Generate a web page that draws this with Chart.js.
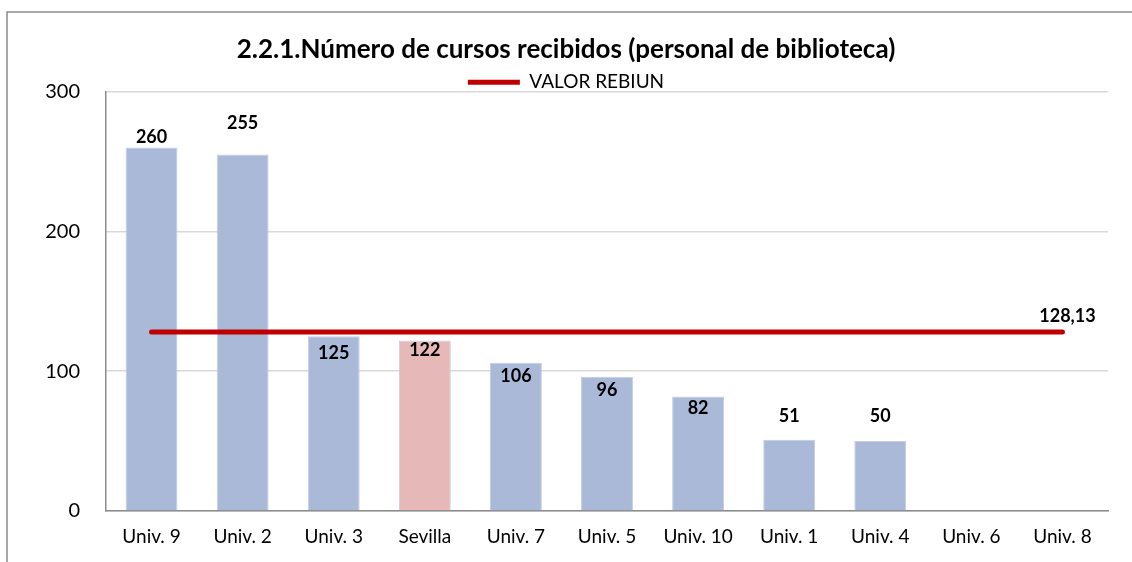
<!DOCTYPE html>
<html>
<head>
<meta charset="utf-8">
<script src="https://cdn.jsdelivr.net/npm/chart.js@4"></script>
<style>
  body { margin: 0; background: #fff; }
  #wrap { width: 1132px; height: 562px; position: relative; }
</style>
</head>
<body>
<div id="wrap"><canvas id="chart" width="1132" height="562"></canvas></div>
<script>
var categories = ["Univ. 9", "Univ. 2", "Univ. 3", "Sevilla", "Univ. 7", "Univ. 5", "Univ. 10", "Univ. 1", "Univ. 4", "Univ. 6", "Univ. 8"];
var cursos = [260, 255, 125, 122, 106, 96, 82, 51, 50, null, null];
var rebiun = [128.13, 128.13, 128.13, 128.13, 128.13, 128.13, 128.13, 128.13, 128.13, 128.13, 128.13];
var yTicks = [0, 100, 200, 300];
var rebiunLabel = "128,13";

// label offset from bar top (px), like excel placed them
var labelShift = [-10, -31, 17, 10, 13, 13, 12, -24, -25, 0, 0];

var barColors = categories.map(function (c) {
    return c === "Sevilla" ? "#E6B9B8" : "#A9B9D7";
});

var frame = {
    id: 'frame',
    afterInit: function (chart) {
        // drop the fixed 10px gap chart.js puts under the legend
        var lg = chart.legend;
        if (lg && !lg._patched) {
            var fit = lg.fit;
            lg.fit = function () {
                fit.call(this);
                if (this.height > 10) this.height -= 10;
            };
            lg._patched = true;
        }
    },
    beforeDraw: function (chart) {
        var ctx = chart.ctx;
        ctx.save();
        ctx.strokeStyle = '#8C8C8C';
        ctx.lineWidth = 1.5;
        ctx.beginPath();
        ctx.moveTo(7, 562);
        ctx.lineTo(7, 12);
        ctx.lineTo(1132, 12);
        ctx.stroke();
        ctx.restore();
    }
};

var labels = {
    id: 'labels',
    afterDatasetsDraw: function (chart) {
        var ctx = chart.ctx;
        ctx.save();
        ctx.font = 'bold 18px Lato';
        ctx.fillStyle = '#000';
        ctx.textAlign = 'center';
        ctx.textBaseline = 'middle';
        var bars = chart.getDatasetMeta(1).data;
        bars.forEach(function (b, i) {
            if (cursos[i] == null) return;
            ctx.fillText(String(cursos[i]), b.x, b.y + labelShift[i]);
        });
        var pts = chart.getDatasetMeta(0).data;
        var last = pts[pts.length - 1];
        ctx.fillText(rebiunLabel, last.x + 5, last.y - 16);
        ctx.restore();
    }
};

var ctx = document.getElementById('chart').getContext('2d');
var chart = new Chart(ctx, {
    data: {
        labels: categories,
        datasets: [{
            type: 'line',
            label: 'VALOR REBIUN',
            data: rebiun,
            borderColor: '#C00000',
            backgroundColor: '#C00000',
            borderWidth: 5,
            borderCapStyle: 'round',
            pointRadius: 0,
            order: 0
        }, {
            type: 'bar',
            label: 'cursos',
            data: cursos,
            backgroundColor: barColors,
            borderColor: '#C3CEE4',
            borderWidth: 1,
            barPercentage: 0.57,
            categoryPercentage: 1,
            order: 1
        }]
    },
    options: {
        responsive: false,
        animation: false,
        layout: {
            padding: { left: 0, right: 0, top: 34, bottom: 0 }
        },
        plugins: {
            title: {
                display: true,
                text: '2.2.1.Número de cursos recibidos (personal de biblioteca)',
                color: '#000',
                font: { family: 'Lato', size: 26, weight: 'bold' },
                padding: { top: 0, bottom: 6 }
            },
            legend: {
                position: 'top',
                labels: {
                    color: '#000',
                    font: { family: 'Lato', size: 19 },
                    usePointStyle: true,
                    pointStyle: 'line',
                    pointStyleWidth: 52,
                    boxHeight: 19,
                    padding: 1.5,
                    filter: function (item) { return item.text === 'VALOR REBIUN'; }
                }
            },
            tooltip: { enabled: false }
        },
        scales: {
            x: {
                grid: { display: false, drawTicks: false },
                border: { display: true, color: '#8C8C8C', width: 1.5 },
                ticks: { color: '#000', font: { family: 'Lato', size: 19 }, padding: 14 },
                afterFit: function (scale) { scale.height = 51; }
            },
            y: {
                min: 0,
                max: 300,
                afterBuildTicks: function (scale) {
                    scale.ticks = yTicks.map(function (v) { return { value: v }; });
                },
                grid: { color: '#D9D9D9', lineWidth: 1.5, drawTicks: false },
                border: { display: true, color: '#8C8C8C', width: 1.5 },
                ticks: { color: '#000', font: { family: 'Lato', size: 20 }, padding: 26 },
                afterFit: function (scale) { scale.width = 106; }
            },
            yRight: {
                position: 'right',
                display: true,
                grid: { display: false, drawTicks: false },
                border: { display: false },
                ticks: { display: false },
                afterFit: function (scale) { scale.width = 24; }
            }
        }
    },
    plugins: [frame, labels]
});
</script>
</body>
</html>
